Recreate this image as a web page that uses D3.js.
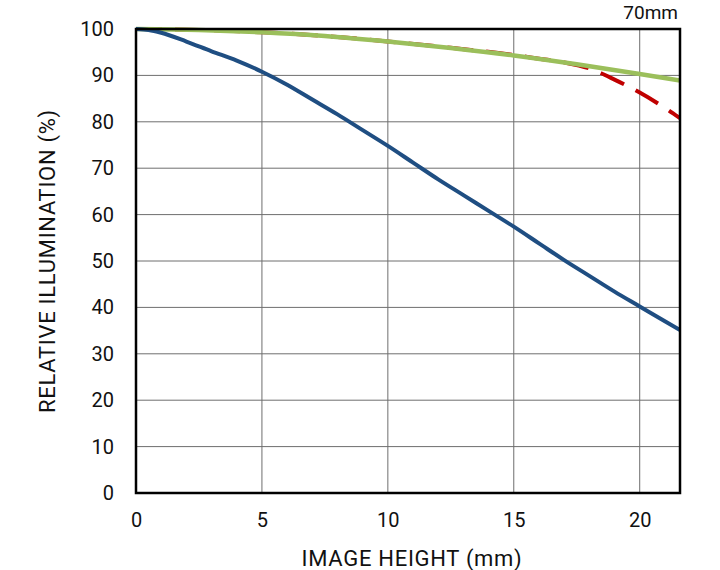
<!DOCTYPE html>
<html>
<head>
<meta charset="utf-8">
<script src="https://cdn.jsdelivr.net/npm/d3@7"></script>
<style>
  html, body { margin: 0; padding: 0; background: #fff; }
  svg text { font-family: Roboto, "Liberation Sans", sans-serif; fill: #111; }
</style>
</head>
<body>
<svg id="chart" width="720" height="570"></svg>
<script>
const title = "70mm";
const xTicks = [0, 5, 10, 15, 20];
const yTicks = [0, 10, 20, 30, 40, 50, 60, 70, 80, 90, 100];
const xLabel = "IMAGE HEIGHT (mm)";
const yLabel = "RELATIVE ILLUMINATION (%)";

const blueX = [0, 0.5, 1, 2, 3, 4, 5, 6, 7, 8, 9, 10, 11, 12, 13, 14, 15, 16, 17, 18, 19, 20, 21, 21.6];
const blueY = [100, 99.8, 99.2, 97.3, 95.2, 93.2, 90.8, 88, 84.8, 81.6, 78.2, 74.8, 71.2, 67.6, 64.2, 60.8, 57.4, 53.8, 50.2, 46.8, 43.4, 40.2, 37, 35.1];

const redX = [0, 2.5, 5, 7.5, 10, 12.5, 15, 16, 17, 18, 19, 20, 21, 21.6];
const redY = [100, 99.8, 99.3, 98.5, 97.3, 95.95, 94.4, 93.6, 92.8, 91.5, 89.1, 86.3, 83, 80.8];

const greenX = [0, 2.5, 5, 7.5, 10, 12.5, 15, 17.5, 20, 21.6];
const greenY = [100, 99.8, 99.3, 98.5, 97.3, 95.9, 94.3, 92.4, 90.3, 88.9];

(function () {
const svg = d3.select("#chart");
const mL = 136, mR = 680, mT = 29, mB = 493;
const x = d3.scaleLinear().domain([0, 21.6]).range([mL, mR]);
const y = d3.scaleLinear().domain([0, 100]).range([mB, mT]);

// grid
const grid = svg.append("g");
grid.selectAll("line.gy").data(yTicks.filter(d => d > 0 && d < 100)).enter().append("line")
  .attr("x1", mL).attr("x2", mR).attr("y1", d => y(d)).attr("y2", d => y(d))
  .attr("stroke", "#6e6e6e").attr("stroke-width", 1);
grid.selectAll("line.gx").data(xTicks.filter(d => d > 0)).enter().append("line")
  .attr("y1", mT).attr("y2", mB).attr("x1", d => x(d)).attr("x2", d => x(d))
  .attr("stroke", "#6e6e6e").attr("stroke-width", 1);

// axes (labels)
const xAxis = d3.axisBottom(x).tickValues(xTicks).tickSize(0).tickPadding(20).tickFormat(d3.format("d"));
const gx = svg.append("g").attr("transform", `translate(0,${mB})`).call(xAxis);
gx.select(".domain").remove();
gx.selectAll("text").style("font-size", "20px").attr("fill", "#111");

const yAxis = d3.axisLeft(y).tickValues(yTicks).tickSize(0).tickPadding(22).tickFormat(d3.format("d"));
const gy = svg.append("g").attr("transform", `translate(${mL},0)`).call(yAxis);
gy.select(".domain").remove();
gy.selectAll("text").style("font-size", "20px").attr("fill", "#111");

// curves
const line = d3.line().x(d => x(d[0])).y(d => y(d[1])).curve(d3.curveMonotoneX);
svg.append("clipPath").attr("id", "clip").append("rect")
  .attr("x", mL).attr("y", mT - 4).attr("width", mR - mL).attr("height", mB - mT + 4);
const curves = svg.append("g").attr("clip-path", "url(#clip)");
curves.append("path").datum(d3.zip(redX, redY)).attr("d", line)
  .attr("fill", "none").attr("stroke", "#c00000").attr("stroke-width", 4)
  .attr("stroke-dasharray", "26,13");
curves.append("path").datum(d3.zip(greenX, greenY)).attr("d", line)
  .attr("fill", "none").attr("stroke", "#9bbf5b").attr("stroke-width", 4.5);
curves.append("path").datum(d3.zip(blueX, blueY)).attr("d", line)
  .attr("fill", "none").attr("stroke", "#1f4e82").attr("stroke-width", 4);

// frame
svg.append("rect").attr("x", mL).attr("y", mT).attr("width", mR - mL).attr("height", mB - mT)
  .attr("fill", "none").attr("stroke", "#000").attr("stroke-width", 2.5);

// titles
svg.append("text").attr("x", 678).attr("y", 19).attr("text-anchor", "end")
  .style("font-size", "19px").text(title);
svg.append("text").attr("x", 412).attr("y", 566).attr("text-anchor", "middle")
  .style("font-size", "22px").style("letter-spacing", "0.7px").text(xLabel);
svg.append("text").attr("transform", `translate(55,261) rotate(-90)`)
  .attr("text-anchor", "middle").style("font-size", "22px").style("letter-spacing", "0.7px").text(yLabel);
})();
</script>
</body>
</html>
